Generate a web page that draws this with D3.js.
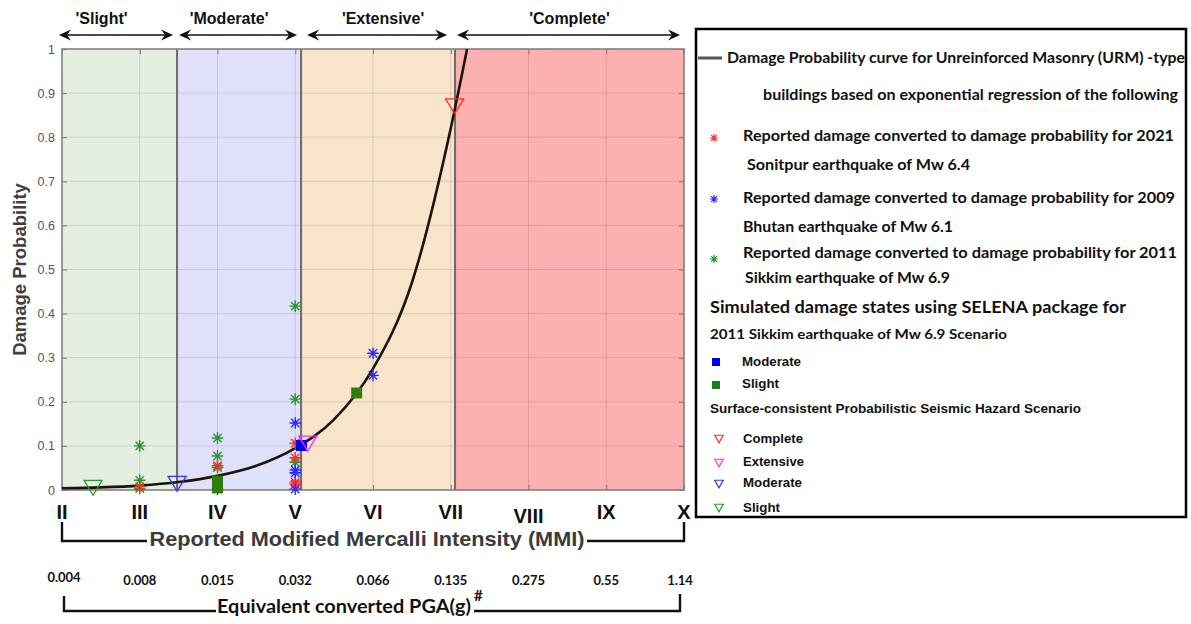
<!DOCTYPE html>
<html>
<head>
<meta charset="utf-8">
<script src="https://cdn.jsdelivr.net/npm/d3@7"></script>
<style>
  body { margin: 0; background: #fff; }
  svg { display: block; }
</style>
</head>
<body>
<svg id="chart" width="1191" height="624"></svg>
<script>
// ---- data ----
const mmiTicks  = [2, 3, 4, 5, 6, 7, 8, 9, 10];
const mmiLabels = ["II", "III", "IV", "V", "VI", "VII", "VIII", "IX", "X"];
const pgaLabels = ["0.004", "0.008", "0.015", "0.032", "0.066", "0.135", "0.275", "0.55", "1.14"];
const probTicks = [0, 0.1, 0.2, 0.3, 0.4, 0.5, 0.6, 0.7, 0.8, 0.9, 1];

const stateNames  = ["'Slight'", "'Moderate'", "'Extensive'", "'Complete'"];
const stateBounds = [2, 3.48, 5.075, 7.055, 10];

// URM damage probability curve (exponential regression)
const curveMMI  = [2, 2.5, 3, 3.5, 4, 4.5, 5, 5.5, 6, 6.5, 7, 7.21];
const curveProb = [0.004, 0.006, 0.010, 0.018, 0.032, 0.055, 0.095, 0.16, 0.275, 0.47, 0.82, 1.0];

// reported damage converted to damage probability
const sonitpurMMI  = [3, 4, 5, 5, 5, 5];
const sonitpurProb = [0.007, 0.055, 0.106, 0.073, 0.018, 0.013];
const bhutanMMI    = [4, 5, 5, 5, 5, 6, 6];
const bhutanProb   = [0.002, 0.152, 0.045, 0.039, 0.002, 0.31, 0.26];
const sikkimMMI    = [3, 3, 3, 4, 4, 4, 5, 5, 5];
const sikkimProb   = [0.1, 0.022, 0.003, 0.118, 0.077, 0.051, 0.417, 0.206, 0.063];

// SELENA simulated damage states (2011 Sikkim scenario)
const selenaModerateMMI  = [5.08];
const selenaModerateProb = [0.101];
const selenaSlightMMI    = [5.79, 4, 4, 4];
const selenaSlightProb   = [0.22, 0.02, 0.012, 0.005];

// surface-consistent probabilistic seismic hazard scenario
const hazardStates = ["Complete", "Extensive", "Moderate", "Slight"];
const hazardMMI    = [7.05, 5.16, 3.48, 2.4];
const hazardProb   = [0.87, 0.105, 0.014, 0.005];

// ---- styles ----
const bandFills = ["#e4eee1", "#e0e0fa", "#f7e4cb", "#fdb0b0"];
const colRed = "#ff2a2a", colBlue = "#2a2aff", colGreen = "#2a962a";
const hazardColors = ["#ff2a2a", "#ff2aff", "#3333ff", "#2a9a2a"];
const narrow = "'Liberation Sans Narrow', 'Arial Narrow', 'Liberation Sans', Arial, sans-serif";
const sans = "'Liberation Sans', Arial, sans-serif";
const calib = "Lato, 'Open Sans', sans-serif";

const svg = d3.select("#chart");
const x = d3.scaleLinear().domain([2, 10]).range([62, 684]);
const y = d3.scaleLinear().domain([0, 1]).range([490, 49]);
const pts = (xs, ys) => xs.map((m, i) => [m, ys[i]]);

// ---- damage-state bands ----
const plot = svg.append("g");
plot.selectAll("rect.band").data(bandFills).join("rect")
  .attr("class", "band")
  .attr("x", (d, i) => x(stateBounds[i]))
  .attr("y", y(1))
  .attr("width", (d, i) => x(stateBounds[i + 1]) - x(stateBounds[i]))
  .attr("height", y(0) - y(1))
  .attr("fill", d => d);

// grid
plot.selectAll("line.vg").data(mmiTicks.slice(1, -1)).join("line")
  .attr("x1", d => x(d)).attr("x2", d => x(d))
  .attr("y1", y(1)).attr("y2", y(0))
  .attr("stroke", "rgba(0,0,0,0.11)").attr("stroke-width", 1);
plot.selectAll("line.hg").data(probTicks.slice(1, -1)).join("line")
  .attr("x1", x(2)).attr("x2", x(10))
  .attr("y1", d => y(d)).attr("y2", d => y(d))
  .attr("stroke", "rgba(0,0,0,0.11)").attr("stroke-width", 1);

// band dividers
plot.selectAll("line.div").data(stateBounds.slice(1, -1)).join("line")
  .attr("x1", d => x(d)).attr("x2", d => x(d))
  .attr("y1", y(1)).attr("y2", y(0))
  .attr("stroke", "#6a6a6a").attr("stroke-width", 2);

// axes (ticks inside, MATLAB-style box)
const yAxis = d3.axisLeft(y).tickValues(probTicks).tickFormat(d3.format("")).tickSize(-5).tickPadding(7);
const gy = svg.append("g").attr("transform", `translate(${x(2)},0)`).call(yAxis);
gy.select(".domain").remove();
gy.selectAll("text").attr("fill", "#555").style("font-family", sans).style("font-size", "12.5px");
gy.selectAll("line").attr("stroke", "#777");

const gyR = svg.append("g").attr("transform", `translate(${x(10)},0)`)
  .call(d3.axisRight(y).tickValues(probTicks).tickFormat("").tickSize(-5));
gyR.select(".domain").remove();
gyR.selectAll("line").attr("stroke", "#777");

const gxB = svg.append("g").attr("transform", `translate(0,${y(0)})`)
  .call(d3.axisBottom(x).tickValues(mmiTicks).tickFormat("").tickSize(-5));
gxB.select(".domain").remove();
gxB.selectAll("line").attr("stroke", "#777");
const gxT = svg.append("g").attr("transform", `translate(0,${y(1)})`)
  .call(d3.axisTop(x).tickValues(mmiTicks).tickFormat("").tickSize(-5));
gxT.select(".domain").remove();
gxT.selectAll("line").attr("stroke", "#777");

svg.append("rect")
  .attr("x", x(2)).attr("y", y(1))
  .attr("width", x(10) - x(2)).attr("height", y(0) - y(1))
  .attr("fill", "none").attr("stroke", "#808080").attr("stroke-width", 1.6);

// y title
svg.append("text")
  .attr("transform", `translate(26,${(y(0) + y(1)) / 2}) rotate(-90)`)
  .attr("text-anchor", "middle")
  .attr("fill", "#404040")
  .style("font-family", sans).style("font-weight", "bold").style("font-size", "18.5px")
  .text("Damage Probability");

// ---- regression curve ----
svg.append("clipPath").attr("id", "plotClip")
  .append("rect").attr("x", x(2)).attr("y", y(1)).attr("width", x(10) - x(2)).attr("height", y(0) - y(1));
svg.append("path")
  .datum(pts(curveMMI, curveProb))
  .attr("clip-path", "url(#plotClip)")
  .attr("d", d3.line().x(d => x(d[0])).y(d => y(d[1])).curve(d3.curveMonotoneX))
  .attr("fill", "none").attr("stroke", "#1c140a").attr("stroke-width", 2.6);

// ---- markers ----
function starPath(r) {
  const k = r * 0.72;
  return `M${-r},0L${r},0M0,${-r}L0,${r}M${-k},${-k}L${k},${k}M${-k},${k}L${k},${-k}`;
}
function triPath(w, h) {
  return `M${-w / 2},${-h / 2}L${w / 2},${-h / 2}L0,${h / 2}Z`;
}
function stars(data, color, r) {
  svg.append("g").selectAll("path").data(data).join("path")
    .attr("transform", d => `translate(${x(d[0])},${y(d[1])})`)
    .attr("d", starPath(r))
    .attr("fill", "none").attr("stroke", color).attr("stroke-width", 1.4);
}
stars(pts(sikkimMMI, sikkimProb), colGreen, 5.8);
stars(pts(sonitpurMMI, sonitpurProb), colRed, 5.8);
stars(pts(bhutanMMI, bhutanProb), colBlue, 5.8);

svg.append("g").selectAll("rect").data(pts(selenaSlightMMI, selenaSlightProb)).join("rect")
  .attr("x", d => x(d[0]) - 5.5).attr("y", d => y(d[1]) - 5.5)
  .attr("width", 11).attr("height", 11)
  .attr("fill", "#2e7d12");
svg.append("g").selectAll("rect").data(pts(selenaModerateMMI, selenaModerateProb)).join("rect")
  .attr("x", d => x(d[0]) - 5.5).attr("y", d => y(d[1]) - 5.5)
  .attr("width", 11).attr("height", 11)
  .attr("fill", "#0000f0");

svg.append("g").selectAll("path").data(hazardStates).join("path")
  .attr("transform", (d, i) => `translate(${x(hazardMMI[i])},${y(hazardProb[i])})`)
  .attr("d", triPath(18, 15))
  .attr("fill", "none")
  .attr("stroke", (d, i) => hazardColors[i]).attr("stroke-width", 1.3);

// ---- damage-state arrows on top ----
const topShift = [-18, -10, 5, 0];
function arrowHead(px, py, dir) {
  const L = 12, W = 5.5, notch = 4;
  return `M${px},${py}L${px - dir * L},${py - W}L${px - dir * (L - notch)},${py}L${px - dir * L},${py + W}Z`;
}
stateNames.forEach((name, i) => {
  const x0 = x(stateBounds[i]) + (i === 0 ? -3 : (i === 2 ? 6 : 2));
  const x1 = x(stateBounds[i + 1]) - (i === 2 ? 8 : 4);
  const ay = 35;
  const g = svg.append("g");
  g.append("line").attr("x1", x0 + 6).attr("x2", x1 - 6).attr("y1", ay).attr("y2", ay)
    .attr("stroke", "#111").attr("stroke-width", 1.6);
  g.append("path").attr("d", arrowHead(x0, ay, -1)).attr("fill", "#111");
  g.append("path").attr("d", arrowHead(x1, ay, 1)).attr("fill", "#111");
  g.append("text")
    .attr("x", (x(stateBounds[i]) + x(stateBounds[i + 1])) / 2 + topShift[i])
    .attr("y", 24)
    .attr("text-anchor", "middle")
    .style("font-family", narrow).style("font-weight", "bold").style("font-size", "16px")
    .attr("fill", "#111")
    .text(name);
});

// ---- MMI labels and bracket ----
svg.append("g").selectAll("text").data(mmiLabels).join("text")
  .attr("x", (d, i) => x(mmiTicks[i]))
  .attr("y", d => d === "VIII" ? 523 : 519)
  .attr("text-anchor", "middle")
  .style("font-family", narrow).style("font-weight", "bold").style("font-size", "20px")
  .attr("fill", "#111")
  .text(d => d);

svg.append("path")
  .attr("d", `M${x(2)},522V541H147M587,541H${x(10)}V522`)
  .attr("fill", "none").attr("stroke", "#111").attr("stroke-width", 2.4);
svg.append("text")
  .attr("x", 367).attr("y", 546)
  .attr("text-anchor", "middle")
  .attr("textLength", 435).attr("lengthAdjust", "spacingAndGlyphs")
  .style("font-family", narrow).style("font-weight", "bold").style("font-size", "21px")
  .attr("fill", "#3a3a3a")
  .text("Reported Modified Mercalli Intensity (MMI)");

// ---- PGA labels and bracket ----
svg.append("g").selectAll("text").data(pgaLabels).join("text")
  .attr("x", (d, i) => x(mmiTicks[i]) + (i === 0 ? 2 : (i === 8 ? -4 : 0)))
  .attr("y", (d, i) => i === 0 ? 582 : 585)
  .attr("text-anchor", "middle")
  .style("font-family", calib).style("font-weight", "bold").style("font-size", "13px")
  .attr("fill", "#111")
  .text(d => d);

svg.append("path")
  .attr("d", `M64,596V611H216M474,611H680V594`)
  .attr("fill", "none").attr("stroke", "#111").attr("stroke-width", 2.4);
svg.append("text")
  .attr("x", 217).attr("y", 613)
  .attr("textLength", 254).attr("lengthAdjust", "spacingAndGlyphs")
  .style("font-family", calib).style("font-weight", "bold").style("font-size", "19px")
  .attr("fill", "#111")
  .text("Equivalent converted PGA(g)");
svg.append("text")
  .attr("x", 474).attr("y", 601)
  .style("font-family", calib).style("font-weight", "bold").style("font-size", "15px")
  .attr("fill", "#111")
  .text("#");

// ---- legend ----
const lg = svg.append("g");
lg.append("rect").attr("x", 696).attr("y", 29).attr("width", 490).attr("height", 488)
  .attr("fill", "#fff").attr("stroke", "#000").attr("stroke-width", 2.5);

function ltext(str, tx, ty, size, len, family, weight) {
  lg.append("text").attr("x", tx).attr("y", ty)
    .attr("textLength", len).attr("lengthAdjust", "spacingAndGlyphs")
    .style("font-family", family || calib).style("font-weight", weight || "bold")
    .style("font-size", size + "px").attr("fill", "#111")
    .text(str);
}
lg.append("line").attr("x1", 698).attr("x2", 722).attr("y1", 58).attr("y2", 58)
  .attr("stroke", "#555").attr("stroke-width", 3);
ltext("Damage Probability curve for Unreinforced Masonry (URM) -type", 727, 63, 14.5, 458);
ltext("buildings  based on exponential regression of the following", 763, 100, 14.5, 415);

const legStars = [
  [colRed, 138, "Reported damage converted to damage  probability for 2021", 141, 431, "Sonitpur earthquake of Mw  6.4", 747, 170, 223],
  [colBlue, 199, "Reported damage converted to damage probability for  2009", 203, 432, "Bhutan earthquake of Mw 6.1", 743, 232, 210],
  [colGreen, 259, "Reported damage converted to damage  probability for  2011", 258, 434, "Sikkim earthquake of Mw 6.9", 745, 283, 205]
];
legStars.forEach(s => {
  lg.append("path").attr("transform", `translate(714,${s[1]})`).attr("d", starPath(4))
    .attr("fill", "none").attr("stroke", s[0]).attr("stroke-width", 1.2);
  ltext(s[2], 743, s[3], 14.5, s[4]);
  ltext(s[5], s[6], s[7], 14.5, s[8]);
});

ltext("Simulated damage states using SELENA package for", 710, 313, 17.5, 416);
ltext("2011 Sikkim  earthquake of Mw 6.9  Scenario", 710, 339, 14, 297);

lg.append("rect").attr("x", 712).attr("y", 358).attr("width", 8).attr("height", 8).attr("fill", "#0000f0");
ltext("Moderate", 742, 366, 12.5, 59, sans);
lg.append("rect").attr("x", 712).attr("y", 381).attr("width", 8).attr("height", 8).attr("fill", "#1e7d1e");
ltext("Slight", 742, 388, 12.5, 37, sans);

ltext("Surface-consistent Probabilistic Seismic Hazard Scenario", 710, 413, 12.5, 371, sans);

const legTriY = [439, 463, 484, 508];
const legTriText = [443, 466, 487, 512];
const legTriLen = [60, 61, 59, 37];
hazardStates.forEach((name, i) => {
  lg.append("path").attr("transform", `translate(719,${legTriY[i]})`).attr("d", triPath(8.5, 7.5))
    .attr("fill", "none").attr("stroke", hazardColors[i]).attr("stroke-width", 1.2);
  ltext(name, 743, legTriText[i], 12.5, legTriLen[i], sans);
});
</script>
</body>
</html>
